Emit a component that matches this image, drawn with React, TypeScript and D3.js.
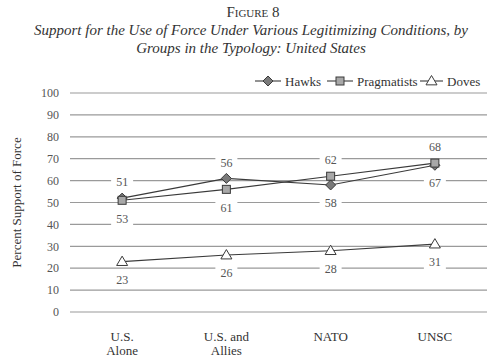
import React from "react";
import * as d3 from "d3";

const categories = [["U.S.", "Alone"], ["U.S. and", "Allies"], ["NATO"], ["UNSC"]];
const hawks = [52, 61, 58, 67];
const pragmatists = [51, 56, 62, 68];
const doves = [23, 26, 28, 31];
const hawkLabels = [53, 61, 58, 67];
const yTicks = [0, 10, 20, 30, 40, 50, 60, 70, 80, 90, 100];

const W = 499, H = 360;
const left = 70, right = 487, top = 93, bottom = 312;
const FONT = "Liberation Serif";
const LINE = "#3a3a3a";

function Marker({ kind, x, y }: { kind: string; x: number; y: number }) {
  if (kind === "diamond") {
    const r = 5;
    return <path d={`M${x},${y - r}L${x + r},${y}L${x},${y + r}L${x - r},${y}Z`} fill="#7a7a7a" stroke={LINE} strokeWidth={1} />;
  }
  if (kind === "square") {
    const s = 8;
    return <rect x={x - s / 2} y={y - s / 2} width={s} height={s} fill="#a8a8a8" stroke={LINE} strokeWidth={1} />;
  }
  const r = 5.5;
  return <path d={`M${x},${y - r}L${x + r},${y + r * 0.7}L${x - r},${y + r * 0.7}Z`} fill="#fff" stroke={LINE} strokeWidth={1} />;
}

export default function App() {
  const x = d3.scaleBand<number>().domain(categories.map((_, i) => i)).range([left, right]);
  const y = d3.scaleLinear().domain([0, 100]).range([bottom, top]);
  const cx = (i: number) => (x(i) as number) + x.bandwidth() / 2;
  const line = d3.line<number>().x((_, i) => cx(i)).y((v) => y(v));

  const series = [
    { name: "Hawks", data: hawks, kind: "diamond" },
    { name: "Pragmatists", data: pragmatists, kind: "square" },
    { name: "Doves", data: doves, kind: "triangle" },
  ];

  const labels: { text: string; x: number; y: number; w: number }[] = [];
  categories.forEach((_, i) => {
    const hi = Math.max(hawks[i], pragmatists[i]);
    const lo = Math.min(hawks[i], pragmatists[i]);
    labels.push({ text: String(pragmatists[i]), x: cx(i), y: y(hi) - 16, w: 22 });
    labels.push({ text: String(hawkLabels[i]), x: cx(i), y: y(lo) + 18, w: 22 });
    labels.push({ text: String(doves[i]), x: cx(i), y: y(doves[i]) + 18, w: 22 });
  });

  const legend = [
    { name: "Hawks", kind: "diamond", lx: 255, tx: 285 },
    { name: "Pragmatists", kind: "square", lx: 327, tx: 357 },
    { name: "Doves", kind: "triangle", lx: 420, tx: 447 },
  ];

  const ff = { fontFamily: FONT };

  return (
    <svg width={W} height={H} style={{ position: "absolute", left: 0, top: 0, background: "#fff", fontFamily: FONT }}>
      <rect width={W} height={H} fill="#fff" />
      <text x={253} y={17} textAnchor="middle" fontSize={15} fill="#333" style={{ fontVariant: "small-caps", fontFamily: FONT }}>Figure 8</text>
      <text x={251} y={35} textAnchor="middle" fontSize={15} fontStyle="italic" fill="#333" style={ff}>Support for the Use of Force Under Various Legitimizing Conditions, by</text>
      <text x={251} y={53} textAnchor="middle" fontSize={15} fontStyle="italic" fill="#333" style={ff}>Groups in the Typology: United States</text>

      {yTicks.map((t) => (
        <g key={t}>
          <line x1={left} x2={right} y1={y(t)} y2={y(t)} stroke="#9a9a9a" strokeWidth={1.2} />
          <text x={59} y={y(t)} dy="0.35em" textAnchor="end" fontSize={12} fill="#555" style={ff}>{t}</text>
        </g>
      ))}

      <text transform={`translate(21,${(top + bottom) / 2}) rotate(-90)`} textAnchor="middle" fontSize={13} fill="#333" style={ff}>Percent Support of Force</text>

      {categories.map((c, i) => (
        <text key={i} x={cx(i)} y={341} textAnchor="middle" fontSize={13} fill="#333" style={ff}>
          {c.map((s, j) => (
            <tspan key={j} x={cx(i)} dy={j === 0 ? 0 : 14}>{s}</tspan>
          ))}
        </text>
      ))}

      {labels.map((l, k) => (
        <g key={k}>
          <rect x={l.x - l.w / 2} y={l.y - 7} width={l.w} height={14} fill="#fff" />
          <text x={l.x} y={l.y} dy="0.35em" textAnchor="middle" fontSize={12} fill="#555" style={ff}>{l.text}</text>
        </g>
      ))}

      {series.map((s) => (
        <path key={s.name} d={line(s.data) as string} fill="none" stroke={LINE} strokeWidth={1.1} />
      ))}
      {series.map((s) => s.data.map((v, i) => <Marker key={s.name + i} kind={s.kind} x={cx(i)} y={y(v)} />))}

      {legend.map((l) => (
        <g key={l.name}>
          <line x1={l.lx} x2={l.tx - 4} y1={81} y2={81} stroke={LINE} strokeWidth={1.1} />
          <Marker kind={l.kind} x={(l.lx + l.tx - 4) / 2} y={81} />
          <text x={l.tx} y={81} dy="0.35em" fontSize={13} fill="#333" style={ff}>{l.name}</text>
        </g>
      ))}
    </svg>
  );
}
